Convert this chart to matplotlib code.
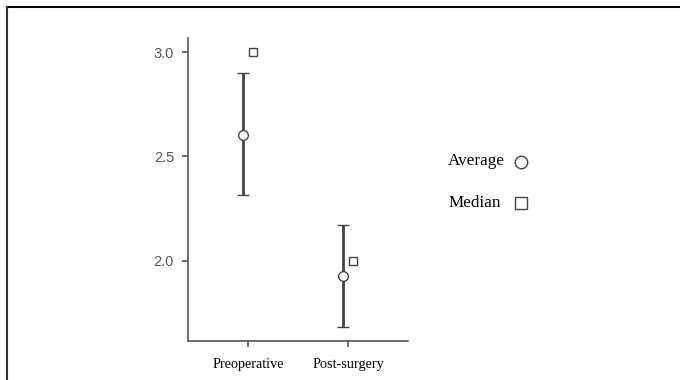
import matplotlib
matplotlib.use("Agg")
import matplotlib.pyplot as plt
from matplotlib.lines import Line2D

# data
groups = ["Preoperative", "Post-surgery"]
average = [2.605, 1.928]
err_high = [2.90, 2.172]
err_low = [2.316, 1.684]
median = [3.0, 2.0]
y_ticks = [2.0, 2.5, 3.0]

fig = plt.figure(figsize=(6.8, 3.8), dpi=100)
ax = fig.add_axes([188/680, 1 - 341/380, 220/680, 303/380])

x = list(range(len(groups)))
lower = [a - l for a, l in zip(average, err_low)]
upper = [h - a for a, h in zip(average, err_high)]

ax.errorbar([i - 0.05 for i in x], average, yerr=[lower, upper], fmt="o",
            color="#444444", ecolor="#444444", elinewidth=2, capsize=4, capthick=2,
            markersize=7, markerfacecolor="white", markeredgecolor="#444444",
            markeredgewidth=1, zorder=3)
ax.plot([i + 0.05 for i in x], median, "s", markersize=6,
        markerfacecolor="white", markeredgecolor="#444444", markeredgewidth=1,
        linestyle="none", zorder=3)

ax.set_xlim(-0.6, 1.6)
ax.set_ylim(1.617, 3.067)
ax.set_xticks(x)
ax.set_xticklabels(groups, fontfamily="Liberation Serif", fontsize=10.3, color="black")
ax.set_yticks(y_ticks)
ax.set_yticklabels([f"{v:.1f}" for v in y_ticks], fontfamily="Liberation Sans",
                   fontsize=10.5, color="#555555")
ax.spines["top"].set_visible(False)
ax.spines["right"].set_visible(False)
for s in ["left", "bottom"]:
    ax.spines[s].set_color("#555555")
    ax.spines[s].set_linewidth(1.2)
ax.tick_params(axis="both", colors="#555555", length=4, width=1.2)
ax.tick_params(axis="x", pad=8, labelcolor="black")
ax.tick_params(axis="y", pad=6, labelcolor="#555555")

# legend drawn as text plus markers in figure space
fig.text(448/680, 1 - 161/380, "Average", fontfamily="Liberation Serif", fontsize=12.3, va="center")
fig.text(449/680, 1 - 203/380, "Median", fontfamily="Liberation Serif", fontsize=12.3, va="center")
fig.add_artist(Line2D([521/680], [1 - 162/380], marker="o", markersize=9,
                      markerfacecolor="white", markeredgecolor="#444444", markeredgewidth=1,
                      transform=fig.transFigure))
fig.add_artist(Line2D([521/680], [1 - 203/380], marker="s", markersize=8,
                      markerfacecolor="white", markeredgecolor="#444444", markeredgewidth=1,
                      transform=fig.transFigure))

# outer frame (top and left only)
fig.add_artist(Line2D([7/680, 1], [1 - 7/380, 1 - 7/380], color="black", linewidth=1.5,
                      transform=fig.transFigure))
fig.add_artist(Line2D([7/680, 7/680], [0, 1 - 7/380], color="#333333", linewidth=1.5,
                      transform=fig.transFigure))

fig.savefig("out.png", dpi=100)
